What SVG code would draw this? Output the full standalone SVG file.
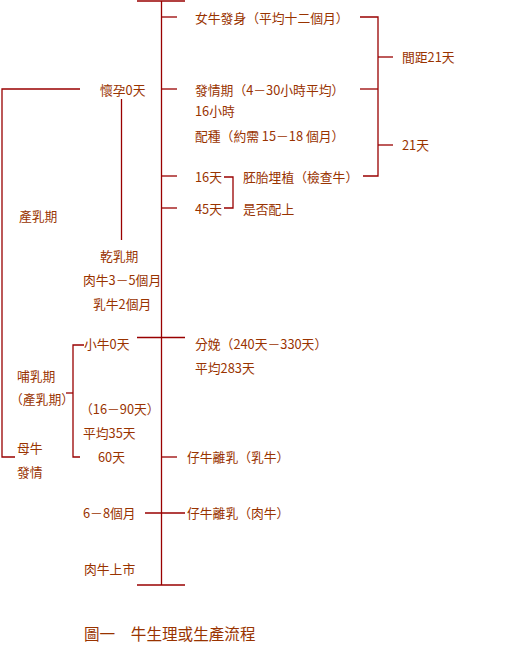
<svg xmlns="http://www.w3.org/2000/svg" width="529" height="646" viewBox="0 0 529 646">
<style>
.t{font-family:"Noto Sans CJK TC","Noto Sans CJK SC",sans-serif;font-size:12.8px;fill:#993300;dominant-baseline:central}
.title{font-size:15.6px}
.c line,.c polyline{stroke:#990000;stroke-width:1.3;fill:none}
</style>
<rect width="529" height="646" fill="#fff"/>
<g id="connectors" class="c">
<line x1="161.5" y1="1" x2="161.5" y2="585"/>
<line x1="137" y1="1" x2="185" y2="1"/>
<line x1="137" y1="585" x2="185" y2="585"/>
<line x1="161.5" y1="17" x2="177" y2="17"/>
<line x1="161.5" y1="89" x2="177" y2="89"/>
<line x1="161.5" y1="176" x2="177" y2="176"/>
<line x1="161.5" y1="208" x2="177" y2="208"/>
<line x1="161.5" y1="457" x2="177" y2="457"/>
<line x1="137" y1="337.5" x2="185" y2="337.5"/>
<line x1="145" y1="513" x2="185" y2="513"/>
<polyline points="360,17 378,17 378,176 363,176"/>
<line x1="360" y1="89" x2="378" y2="89"/>
<line x1="378" y1="57" x2="393" y2="57"/>
<line x1="378" y1="145" x2="393" y2="145"/>
<polyline points="224,177 233,177 233,208 224,208"/>
<polyline points="80,89 2,89 2,457 15,457"/>
<line x1="121.5" y1="99" x2="121.5" y2="240"/>
<polyline points="84,345 73,345 73,457 80,457"/>
<line x1="66" y1="393" x2="73" y2="393"/>
</g>
<g id="n1"><text class="t" x="195" y="17">女牛發身（平均十二個月）</text></g>
<g id="n2"><text class="t" x="195" y="89">發情期（4－30小時平均）</text><text class="t" x="195" y="110">16小時</text><text class="t" x="195" y="135">配種（約需 15－18 個月）</text></g>
<g id="n3"><text class="t" x="195" y="176">16天</text></g>
<g id="n4"><text class="t" x="195" y="208">45天</text></g>
<g id="n5"><text class="t" x="243" y="176">胚胎埋植（檢查牛）</text></g>
<g id="n6"><text class="t" x="243" y="208">是否配上</text></g>
<g id="n7"><text class="t" x="402" y="56">間距21天</text></g>
<g id="n8"><text class="t" x="402" y="144">21天</text></g>
<g id="n9"><text class="t" x="100" y="89">懷孕0天</text></g>
<g id="n10"><text class="t" x="19" y="215">產乳期</text></g>
<g id="n11"><text class="t" x="100" y="255">乾乳期</text><text class="t" x="83" y="279">肉牛3－5個月</text><text class="t" x="93" y="303">乳牛2個月</text></g>
<g id="n12"><text class="t" x="84" y="343">小牛0天</text></g>
<g id="n13"><text class="t" x="195" y="343">分娩（240天－330天）</text><text class="t" x="195" y="367">平均283天</text></g>
<g id="n14"><text class="t" x="17" y="375">哺乳期</text><text class="t" x="10" y="398">（產乳期）</text></g>
<g id="n15"><text class="t" x="80" y="408">（16－90天）</text><text class="t" x="83" y="432">平均35天</text><text class="t" x="98" y="456">60天</text></g>
<g id="n16"><text class="t" x="17" y="447">母牛</text><text class="t" x="17" y="471">發情</text></g>
<g id="n17"><text class="t" x="187" y="456">仔牛離乳（乳牛）</text></g>
<g id="n18"><text class="t" x="83" y="512">6－8個月</text></g>
<g id="n19"><text class="t" x="187" y="512">仔牛離乳（肉牛）</text></g>
<g id="n20"><text class="t" x="84" y="568">肉牛上市</text></g>
<g id="title"><text class="t title" x="84" y="633">圖一　牛生理或生產流程</text></g>
</svg>
